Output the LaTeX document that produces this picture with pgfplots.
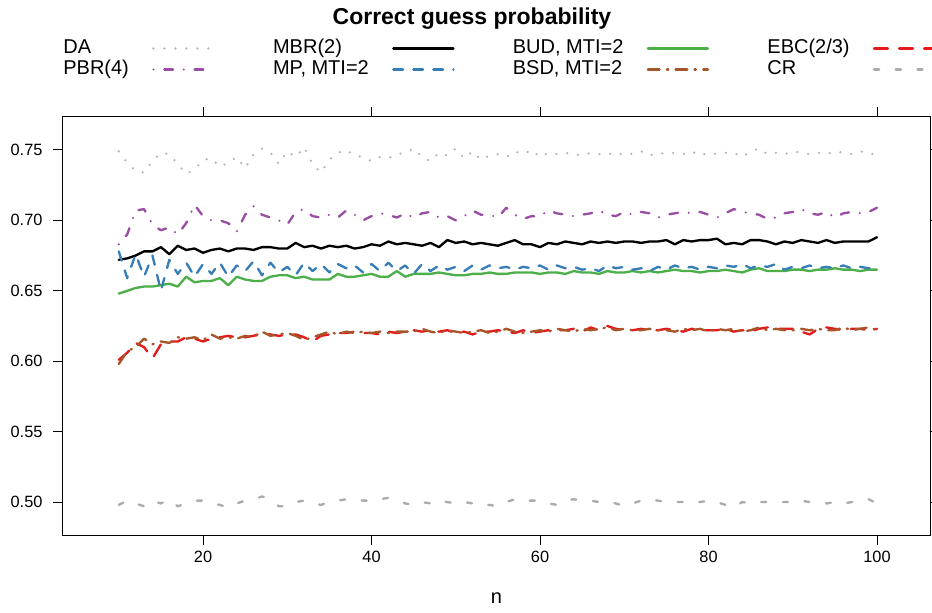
\documentclass[border=0pt]{standalone}
\usepackage{fontspec}
\setmainfont{Liberation Sans}
\usepackage{pgfplots}
\usepackage{pgfplotstable}
\pgfplotsset{compat=1.18}
\definecolor{cDA}{HTML}{B3B3B3}
\definecolor{cPBR}{HTML}{984EA3}
\definecolor{cMP}{HTML}{377EB8}
\definecolor{cBUD}{HTML}{4DAF4A}
\definecolor{cBSD}{HTML}{A65628}
\definecolor{cEBC}{HTML}{E41A1C}
\definecolor{cCR}{HTML}{ABABAB}
\pgfplotstableread{
n DA MBR BUD EBC PBR MP BSD CR
10 .749 .672 .648 .601 .683 .678 .598 .498
11 .741 .673 .650 .606 .690 .659 .607 .501
12 .735 .675 .652 .613 .707 .676 .610 .499
13 .734 .678 .653 .610 .708 .660 .616 .497
14 .742 .678 .653 .602 .697 .675 .612 .501
15 .748 .681 .654 .612 .693 .650 .614 .499
16 .747 .676 .655 .614 .695 .672 .613 .502
17 .740 .682 .653 .614 .690 .662 .617 .497
18 .733 .679 .660 .617 .698 .670 .616 .499
19 .736 .680 .656 .616 .711 .660 .617 .501
20 .743 .677 .657 .614 .703 .669 .615 .501
21 .744 .679 .657 .616 .700 .662 .619 .499
22 .738 .680 .659 .617 .700 .670 .616 .498
23 .741 .678 .654 .618 .698 .660 .617 .496
24 .745 .680 .660 .617 .692 .668 .616 .499
25 .737 .680 .658 .617 .704 .664 .618 .501
26 .747 .679 .657 .618 .710 .671 .617 .502
27 .751 .681 .657 .620 .704 .661 .621 .504
28 .748 .681 .660 .619 .702 .670 .618 .502
29 .740 .680 .661 .618 .700 .663 .619 .497
30 .749 .680 .661 .619 .697 .667 .620 .497
31 .745 .684 .659 .619 .706 .661 .618 .500
32 .752 .681 .660 .617 .708 .670 .615 .501
33 .740 .682 .658 .614 .703 .664 .617 .499
34 .734 .680 .658 .618 .702 .669 .619 .498
35 .743 .682 .658 .619 .704 .663 .621 .500
36 .748 .681 .662 .620 .702 .669 .619 .501
37 .750 .682 .660 .620 .707 .666 .621 .502
38 .746 .680 .660 .621 .704 .668 .620 .502
39 .745 .681 .661 .620 .700 .663 .621 .501
40 .742 .683 .662 .620 .703 .669 .620 .501
41 .745 .682 .660 .619 .705 .664 .621 .502
42 .744 .685 .660 .621 .704 .670 .620 .503
43 .747 .683 .664 .620 .702 .664 .621 .502
44 .748 .684 .660 .621 .705 .668 .621 .499
45 .751 .683 .662 .622 .702 .662 .621 .498
46 .745 .682 .662 .621 .705 .669 .623 .500
47 .742 .684 .662 .622 .706 .664 .621 .499
48 .748 .681 .663 .621 .702 .668 .620 .501
49 .746 .686 .662 .622 .703 .665 .622 .500
50 .751 .684 .661 .620 .700 .667 .621 .499
51 .744 .685 .661 .621 .703 .664 .620 .500
52 .749 .683 .662 .619 .707 .668 .621 .499
53 .743 .684 .662 .621 .704 .665 .622 .497
54 .746 .683 .663 .621 .704 .668 .620 .498
55 .747 .682 .662 .622 .702 .666 .621 .497
56 .745 .684 .662 .621 .709 .667 .623 .500
57 .749 .686 .663 .620 .704 .665 .621 .502
58 .747 .683 .663 .622 .701 .667 .620 .501
59 .750 .683 .663 .620 .703 .666 .621 .501
60 .745 .681 .662 .621 .703 .668 .622 .501
61 .748 .684 .663 .622 .707 .665 .621 .499
62 .747 .683 .663 .622 .705 .668 .623 .498
63 .748 .685 .662 .622 .704 .666 .622 .501
64 .747 .684 .664 .623 .703 .667 .621 .502
65 .746 .683 .663 .621 .704 .665 .623 .501
66 .748 .685 .663 .624 .705 .666 .622 .501
67 .747 .684 .662 .622 .707 .664 .623 .500
68 .748 .685 .664 .625 .704 .668 .624 .500
69 .746 .684 .663 .623 .703 .666 .622 .499
70 .748 .685 .663 .622 .706 .667 .623 .497
71 .747 .685 .664 .622 .704 .665 .622 .499
72 .749 .684 .663 .623 .706 .666 .622 .501
73 .746 .685 .664 .622 .705 .664 .623 .502
74 .748 .685 .663 .622 .702 .667 .622 .501
75 .747 .686 .664 .623 .704 .665 .622 .500
76 .748 .683 .665 .622 .705 .668 .621 .500
77 .747 .686 .664 .621 .706 .666 .623 .500
78 .749 .685 .664 .623 .705 .667 .622 .500
79 .746 .686 .663 .622 .706 .665 .623 .500
80 .748 .686 .664 .622 .704 .667 .621 .501
81 .747 .687 .664 .622 .702 .666 .623 .500
82 .748 .683 .665 .623 .705 .668 .622 .498
83 .748 .684 .664 .621 .708 .667 .623 .496
84 .745 .683 .663 .622 .706 .669 .621 .500
85 .749 .686 .665 .621 .705 .666 .622 .499
86 .751 .686 .666 .623 .704 .668 .624 .500
87 .747 .685 .664 .624 .701 .667 .622 .500
88 .748 .683 .664 .623 .702 .669 .623 .500
89 .747 .685 .664 .623 .705 .665 .622 .500
90 .749 .684 .665 .623 .706 .667 .622 .500
91 .748 .686 .665 .621 .708 .666 .623 .501
92 .747 .685 .664 .619 .705 .668 .622 .500
93 .748 .684 .665 .623 .704 .666 .623 .500
94 .747 .686 .665 .624 .706 .667 .622 .499
95 .749 .684 .666 .623 .702 .666 .622 .500
96 .748 .685 .665 .622 .705 .668 .624 .499
97 .747 .685 .665 .623 .706 .666 .622 .500
98 .749 .685 .664 .623 .705 .667 .623 .501
99 .748 .685 .665 .622 .706 .666 .624 .502
100 .746 .688 .665 .623 .709 .668 .622 .499
}\data
\begin{document}
\begin{tikzpicture}
\useasboundingbox (-37.8pt,-46.2pt) rectangle (521.4pt,321pt);
\begin{axis}[
  scale only axis, width=520.2pt, height=250.8pt,
  xmin=3.38, xmax=106.29, ymin=0.4766, ymax=0.7734,
  xtick={20,40,60,80,100},
  ytick={0.50,0.55,0.60,0.65,0.70,0.75},
  /pgf/number format/assume math mode=true,
  yticklabel style={/pgf/number format/fixed, /pgf/number format/fixed zerofill, /pgf/number format/precision=2, xshift=-2.8pt},
  tick align=outside, tick pos=both, major tick length=6pt,
  tick style={black, line width=0.6pt},
  axis line style={line width=0.6pt},
  ticklabel style={font=\fontsize{9.8}{11}\selectfont},
  xlabel={n},
  xlabel style={font=\fontsize{12}{14}\selectfont, at={(0.5,0)}, anchor=base, yshift=-40.9pt},
  title={Correct guess probability},
  title style={font=\bfseries\fontsize{13.8}{16}\selectfont, at={(0.4717,1)}, anchor=base, yshift=49.7pt},
  legend columns=4, legend plot pos=right, legend cell align=left,
  legend image code/.code={\draw[#1] (0pt,0pt) -- (36pt,0pt);},
  legend style={draw=none, fill=none, at={(0,1)}, anchor=south west, yshift=22pt,
    inner sep=0pt, row sep=0pt,
    font=\fontsize{12}{12}\selectfont,
    nodes={inner sep=0pt, text height=9.5pt, text depth=3.1pt},
    /tikz/every even column/.append style={column sep=35pt},
    /tikz/every odd column/.append style={column sep=14pt}},
  every axis plot/.append style={line width=1.4pt, line cap=round, line join=round},
]
\addplot[cDA, line width=1.5pt, dash pattern=on 0pt off 6.6pt] table[x=n,y=DA] {\data};
\addlegendentry{DA}
\addplot[black] table[x=n,y=MBR] {\data};
\addlegendentry{MBR(2)}
\addplot[cBUD] table[x=n,y=BUD] {\data};
\addlegendentry{BUD, MTI=2}
\addplot[cEBC, dash pattern=on 8.2pt off 6.8pt] table[x=n,y=EBC] {\data};
\addlegendentry{EBC(2/3)}
\addplot[cPBR, dash pattern=on 0pt off 6.5pt on 5.2pt off 6.5pt] table[x=n,y=PBR] {\data};
\addlegendentry{PBR(4)}
\addplot[cMP, dash pattern=on 5.8pt off 6.2pt] table[x=n,y=MP] {\data};
\addlegendentry{MP, MTI=2}
\addplot[cBSD, dash pattern=on 7pt off 4.4pt on 0.8pt off 4.4pt] table[x=n,y=BSD] {\data};
\addlegendentry{BSD, MTI=2}
\addplot[cCR, dash pattern=on 3pt off 10pt] table[x=n,y=CR] {\data};
\addlegendentry{CR}
\end{axis}
\end{tikzpicture}
\end{document}
